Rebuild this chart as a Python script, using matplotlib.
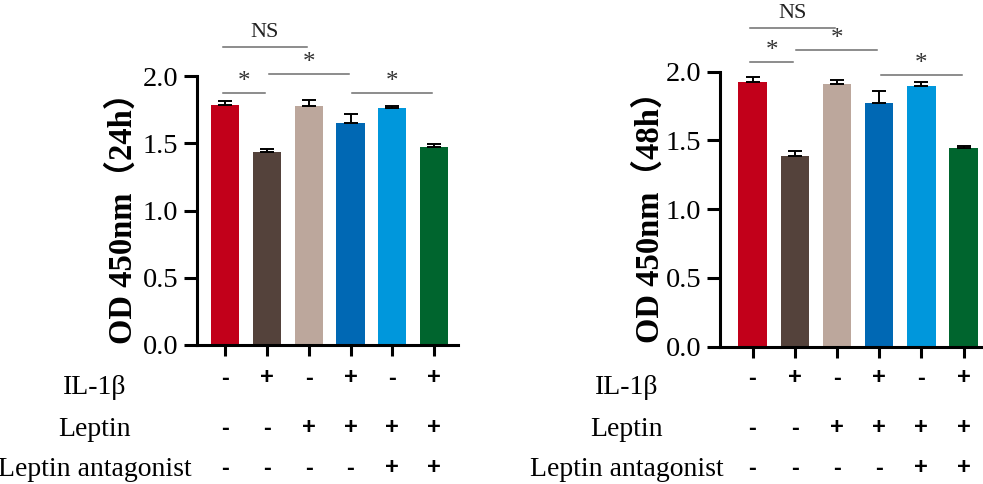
import matplotlib
matplotlib.use('Agg')
import matplotlib.pyplot as plt
from matplotlib.transforms import blended_transform_factory

# bar colours, same order in both panels
colors = ['#C2001A', '#54423B', '#BCA79C', '#0068B4', '#0097DC', '#00652E']

# OD 450nm, 24 h
od_24h = [1.784, 1.433, 1.775, 1.653, 1.760, 1.472]
err_24h = [0.030, 0.024, 0.044, 0.067, 0.019, 0.020]

# OD 450nm, 48 h
od_48h = [1.927, 1.389, 1.910, 1.775, 1.898, 1.443]
err_48h = [0.032, 0.034, 0.030, 0.087, 0.025, 0.019]

# significance brackets: (from group, to group, height, label)
sig_24h = [(0, 1, 1.871, '*'), (1, 3, 2.013, '*'), (3, 5, 1.871, '*'), (0, 2, 2.218, 'NS')]
sig_48h = [(0, 1, 2.073, '*'), (1, 3, 2.158, '*'), (3, 5, 1.976, '*'), (0, 2, 2.316, 'NS')]

row_names = ['IL-1\u03b2', 'Leptin', 'Leptin antagonist']
il1b = ['-', '+', '-', '+', '-', '+']
leptin = ['-', '-', '+', '+', '+', '+']
antagonist = ['-', '-', '-', '-', '+', '+']

W, H = 983, 484
fig = plt.figure(figsize=(W / 100, H / 100), dpi=100)

serif = 'Liberation Serif'


def panel(rect, xlim, vals, errs, sig, ylabel, ylabel_x, label_x):
    ax = fig.add_axes(rect)
    x = range(len(vals))
    ax.bar(x, vals, width=0.67, color=colors, edgecolor='none', zorder=2)
    ax.errorbar(x, vals, yerr=[[0] * len(errs), errs], fmt='none', ecolor='black',
                elinewidth=1.4, capsize=5, capthick=1.4, zorder=3)
    ax.set_xlim(*xlim)
    ax.set_ylim(0, 2.0)
    ax.set_yticks([0.0, 0.5, 1.0, 1.5, 2.0])
    ax.set_yticklabels(['%.1f' % v for v in [0.0, 0.5, 1.0, 1.5, 2.0]],
                       fontfamily=serif, fontsize=20.5)
    ax.set_xticks(list(x))
    ax.set_xticklabels([])
    ax.tick_params(axis='y', direction='out', length=9.5, width=2.2, pad=4)
    ax.tick_params(axis='x', direction='out', length=8, width=2.2)
    for s in ['top', 'right']:
        ax.spines[s].set_visible(False)
    for s in ['left', 'bottom']:
        ax.spines[s].set_linewidth(2.2)

    for i, j, y, lab in sig:
        x0 = i - 0.05 if i == 0 else i + 0.04
        x1 = j - 0.04
        ax.plot([x0, x1], [y, y], color='#6e6e6e', lw=1.1, clip_on=False)
        if lab == 'NS':
            ax.text((x0 + x1) / 2, y + 0.035, lab, ha='center', va='bottom',
                    fontfamily=serif, fontsize=16, color='#222222')
        else:
            ax.text((x0 + x1) / 2, y + 0.0, lab, ha='center', va='bottom',
                    fontfamily=serif, fontsize=18, color='#333333')

    fig.text(ylabel_x / W, (rect[1] + rect[3] / 2), ylabel, rotation=90,
             ha='center', va='center', fontsize=23.5, fontweight='bold',
             family=[serif, 'Noto Sans CJK SC'])

    trans = blended_transform_factory(ax.transData, fig.transFigure)
    for row, ypx in zip([il1b, leptin, antagonist], [378, 428, 468]):
        for k, s in enumerate(row):
            ax.text(k, 1 - ypx / H, s, transform=trans, ha='center', va='center',
                    fontfamily='Liberation Sans', fontweight='bold', fontsize=17)
    for name, ypx in zip(row_names, [388, 430, 470]):
        fig.text(label_x / W, 1 - ypx / H, name, ha='center', va='center',
                 fontfamily=serif, fontsize=20)
    return ax


panel([197 / W, 1 - 345 / H, 261 / W, 269 / H], (-0.67, 5.57), od_24h, err_24h, sig_24h,
      'OD 450nm\uff0824h\uff09', 123, 95)
panel([720 / W, 1 - 346.7 / H, 263 / W, 275 / H], (-0.77, 5.46), od_48h, err_48h, sig_48h,
      'OD 450nm\uff0848h\uff09', 650, 627)

plt.savefig('out.png', dpi=100)
